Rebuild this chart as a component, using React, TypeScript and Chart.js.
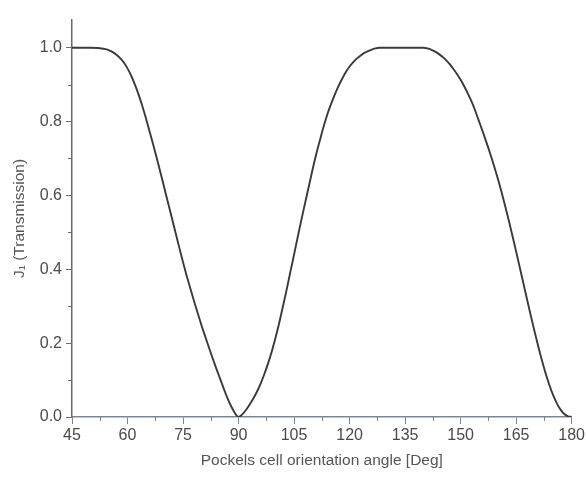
import React, { useEffect, useRef } from "react";
import { Chart, registerables } from "chart.js";

Chart.register(...registerables);

// Orientation angle (deg) and transmission J1
const angles = [
  45, 48, 50, 52, 53, 54, 55, 56, 57, 58, 59, 60, 61, 62, 63, 64, 65, 66, 67, 68, 69, 70,
  71, 72, 73, 74, 75, 76, 77, 78, 79, 80, 81, 82, 83, 84, 85, 86, 87, 88, 89, 90,
  91, 92, 93, 94, 95, 96, 97, 98, 99, 100, 101, 102, 103, 104, 105, 106, 107, 108, 109,
  110, 111, 112, 113, 114, 115, 116, 117, 118, 119, 120, 121, 122, 123, 124, 125, 126,
  127, 128, 132, 136, 140, 141, 142, 143, 144, 145, 146, 147, 148, 149, 150, 151, 152,
  153, 154, 155, 156, 157, 158, 159, 160, 161, 162, 163, 164, 165, 166, 167, 168, 169,
  170, 171, 172, 173, 174, 175, 176, 177, 178, 179, 180,
];
const transmission = [
  1.0, 1.0, 1.0, 0.999, 0.998, 0.996, 0.993, 0.988, 0.981, 0.972, 0.96, 0.944, 0.924,
  0.9, 0.873, 0.842, 0.808, 0.772, 0.735, 0.697, 0.658, 0.618, 0.578, 0.538, 0.498,
  0.458, 0.419, 0.382, 0.347, 0.313, 0.28, 0.248, 0.218, 0.188, 0.159, 0.131, 0.104,
  0.077, 0.051, 0.029, 0.011, 0.0,
  0.007, 0.019, 0.034, 0.05, 0.069, 0.091, 0.117, 0.146, 0.178, 0.215, 0.255, 0.3,
  0.345, 0.393, 0.44, 0.488, 0.535, 0.58, 0.625, 0.67, 0.712, 0.75, 0.787, 0.82, 0.848,
  0.873, 0.896, 0.916, 0.934, 0.949, 0.961, 0.971, 0.979, 0.986, 0.991, 0.995, 0.998,
  1.0, 1.0, 1.0, 1.0, 0.998, 0.995, 0.99, 0.984, 0.976, 0.967, 0.956, 0.943, 0.929,
  0.913, 0.895, 0.875, 0.853, 0.828, 0.8, 0.772, 0.743, 0.713, 0.681, 0.647, 0.611,
  0.573, 0.533, 0.491, 0.448, 0.404, 0.36, 0.316, 0.273, 0.231, 0.19, 0.152, 0.117,
  0.086, 0.059, 0.037, 0.02, 0.008, 0.002, 0.0,
];

const xMajorTicks = [45, 60, 75, 90, 105, 120, 135, 150, 165, 180];
const xMinorTicks = [52.5, 67.5, 82.5, 97.5, 112.5, 127.5, 142.5, 157.5, 172.5];
const yMajorTicks = [0.0, 0.2, 0.4, 0.6, 0.8, 1.0];
const yMinorTicks = [0.1, 0.3, 0.5, 0.7, 0.9];

const xTitle = "Pockels cell orientation angle [Deg]";
const yTitle = "J\u2081 (Transmission)";

const FONT = "'Liberation Sans', Arial, sans-serif";
const X_AXIS_COLOR = "#7b8796";
const Y_AXIS_COLOR = "#6a6a6a";

const minorTickPlugin = {
  id: "minorTicks",
  afterDraw(chart: any) {
    const ctx = chart.ctx;
    const xs = chart.scales.x;
    const ys = chart.scales.y;
    const area = chart.chartArea;
    ctx.save();
    ctx.lineWidth = 1;
    ctx.strokeStyle = X_AXIS_COLOR;
    xMinorTicks.forEach((v) => {
      const px = Math.round(xs.getPixelForValue(v)) + 0.5;
      ctx.beginPath();
      ctx.moveTo(px, area.bottom);
      ctx.lineTo(px, area.bottom + 4);
      ctx.stroke();
    });
    ctx.strokeStyle = Y_AXIS_COLOR;
    yMinorTicks.forEach((v) => {
      const py = Math.round(ys.getPixelForValue(v)) + 0.5;
      ctx.beginPath();
      ctx.moveTo(area.left, py);
      ctx.lineTo(area.left - 4, py);
      ctx.stroke();
    });
    ctx.restore();
  },
};

export default function App() {
  const ref = useRef<HTMLCanvasElement | null>(null);

  useEffect(() => {
    document.body.style.margin = "0";
    const canvas = ref.current;
    if (!canvas) return;
    const chart = new Chart(canvas, {
      type: "line",
      data: {
        datasets: [
          {
            data: angles.map((a, i) => ({ x: a, y: transmission[i] })),
            borderColor: "#3a3a3a",
            borderWidth: 1.9,
            pointRadius: 0,
            fill: false,
            cubicInterpolationMode: "monotone",
          },
        ],
      },
      options: {
        animation: false,
        responsive: false,
        layout: { padding: { top: 20, right: 12, bottom: 0, left: 0 } },
        plugins: { legend: { display: false }, tooltip: { enabled: false } },
        scales: {
          x: {
            type: "linear",
            min: 45,
            max: 180,
            afterBuildTicks: (s: any) => {
              s.ticks = xMajorTicks.map((v) => ({ value: v }));
            },
            afterFit: (s: any) => {
              s.height = 61;
            },
            grid: {
              drawOnChartArea: false,
              drawTicks: true,
              tickLength: 7,
              tickColor: X_AXIS_COLOR,
            },
            border: { display: true, color: X_AXIS_COLOR, width: 1.5 },
            ticks: {
              color: "#4a4a4a",
              font: { family: FONT, size: 16 },
              padding: 2,
              maxRotation: 0,
              autoSkip: false,
              callback: (v: any) => String(v),
            },
            title: {
              display: true,
              text: xTitle,
              color: "#555",
              font: { family: FONT, size: 15.5 },
              padding: { top: 0, bottom: 8 },
            },
          },
          y: {
            type: "linear",
            min: 0,
            max: 1.075,
            afterBuildTicks: (s: any) => {
              s.ticks = yMajorTicks.map((v) => ({ value: v }));
            },
            afterFit: (s: any) => {
              s.width = 72;
            },
            grid: {
              drawOnChartArea: false,
              drawTicks: true,
              tickLength: 6,
              tickColor: Y_AXIS_COLOR,
            },
            border: { display: true, color: Y_AXIS_COLOR, width: 1.5 },
            ticks: {
              color: "#4a4a4a",
              font: { family: FONT, size: 16 },
              padding: 4,
              autoSkip: false,
              callback: (v: any) => Number(v).toFixed(1),
            },
            title: {
              display: true,
              text: yTitle,
              color: "#555",
              font: { family: FONT, size: 15.5 },
              padding: { top: 10, bottom: 10 },
            },
          },
        },
      },
      plugins: [minorTickPlugin],
    } as any);
    return () => chart.destroy();
  }, []);

  return (
    <div style={{ width: 587, height: 478, background: "#fff" }}>
      <canvas ref={ref} width={587} height={478} style={{ display: "block" }} />
    </div>
  );
}
